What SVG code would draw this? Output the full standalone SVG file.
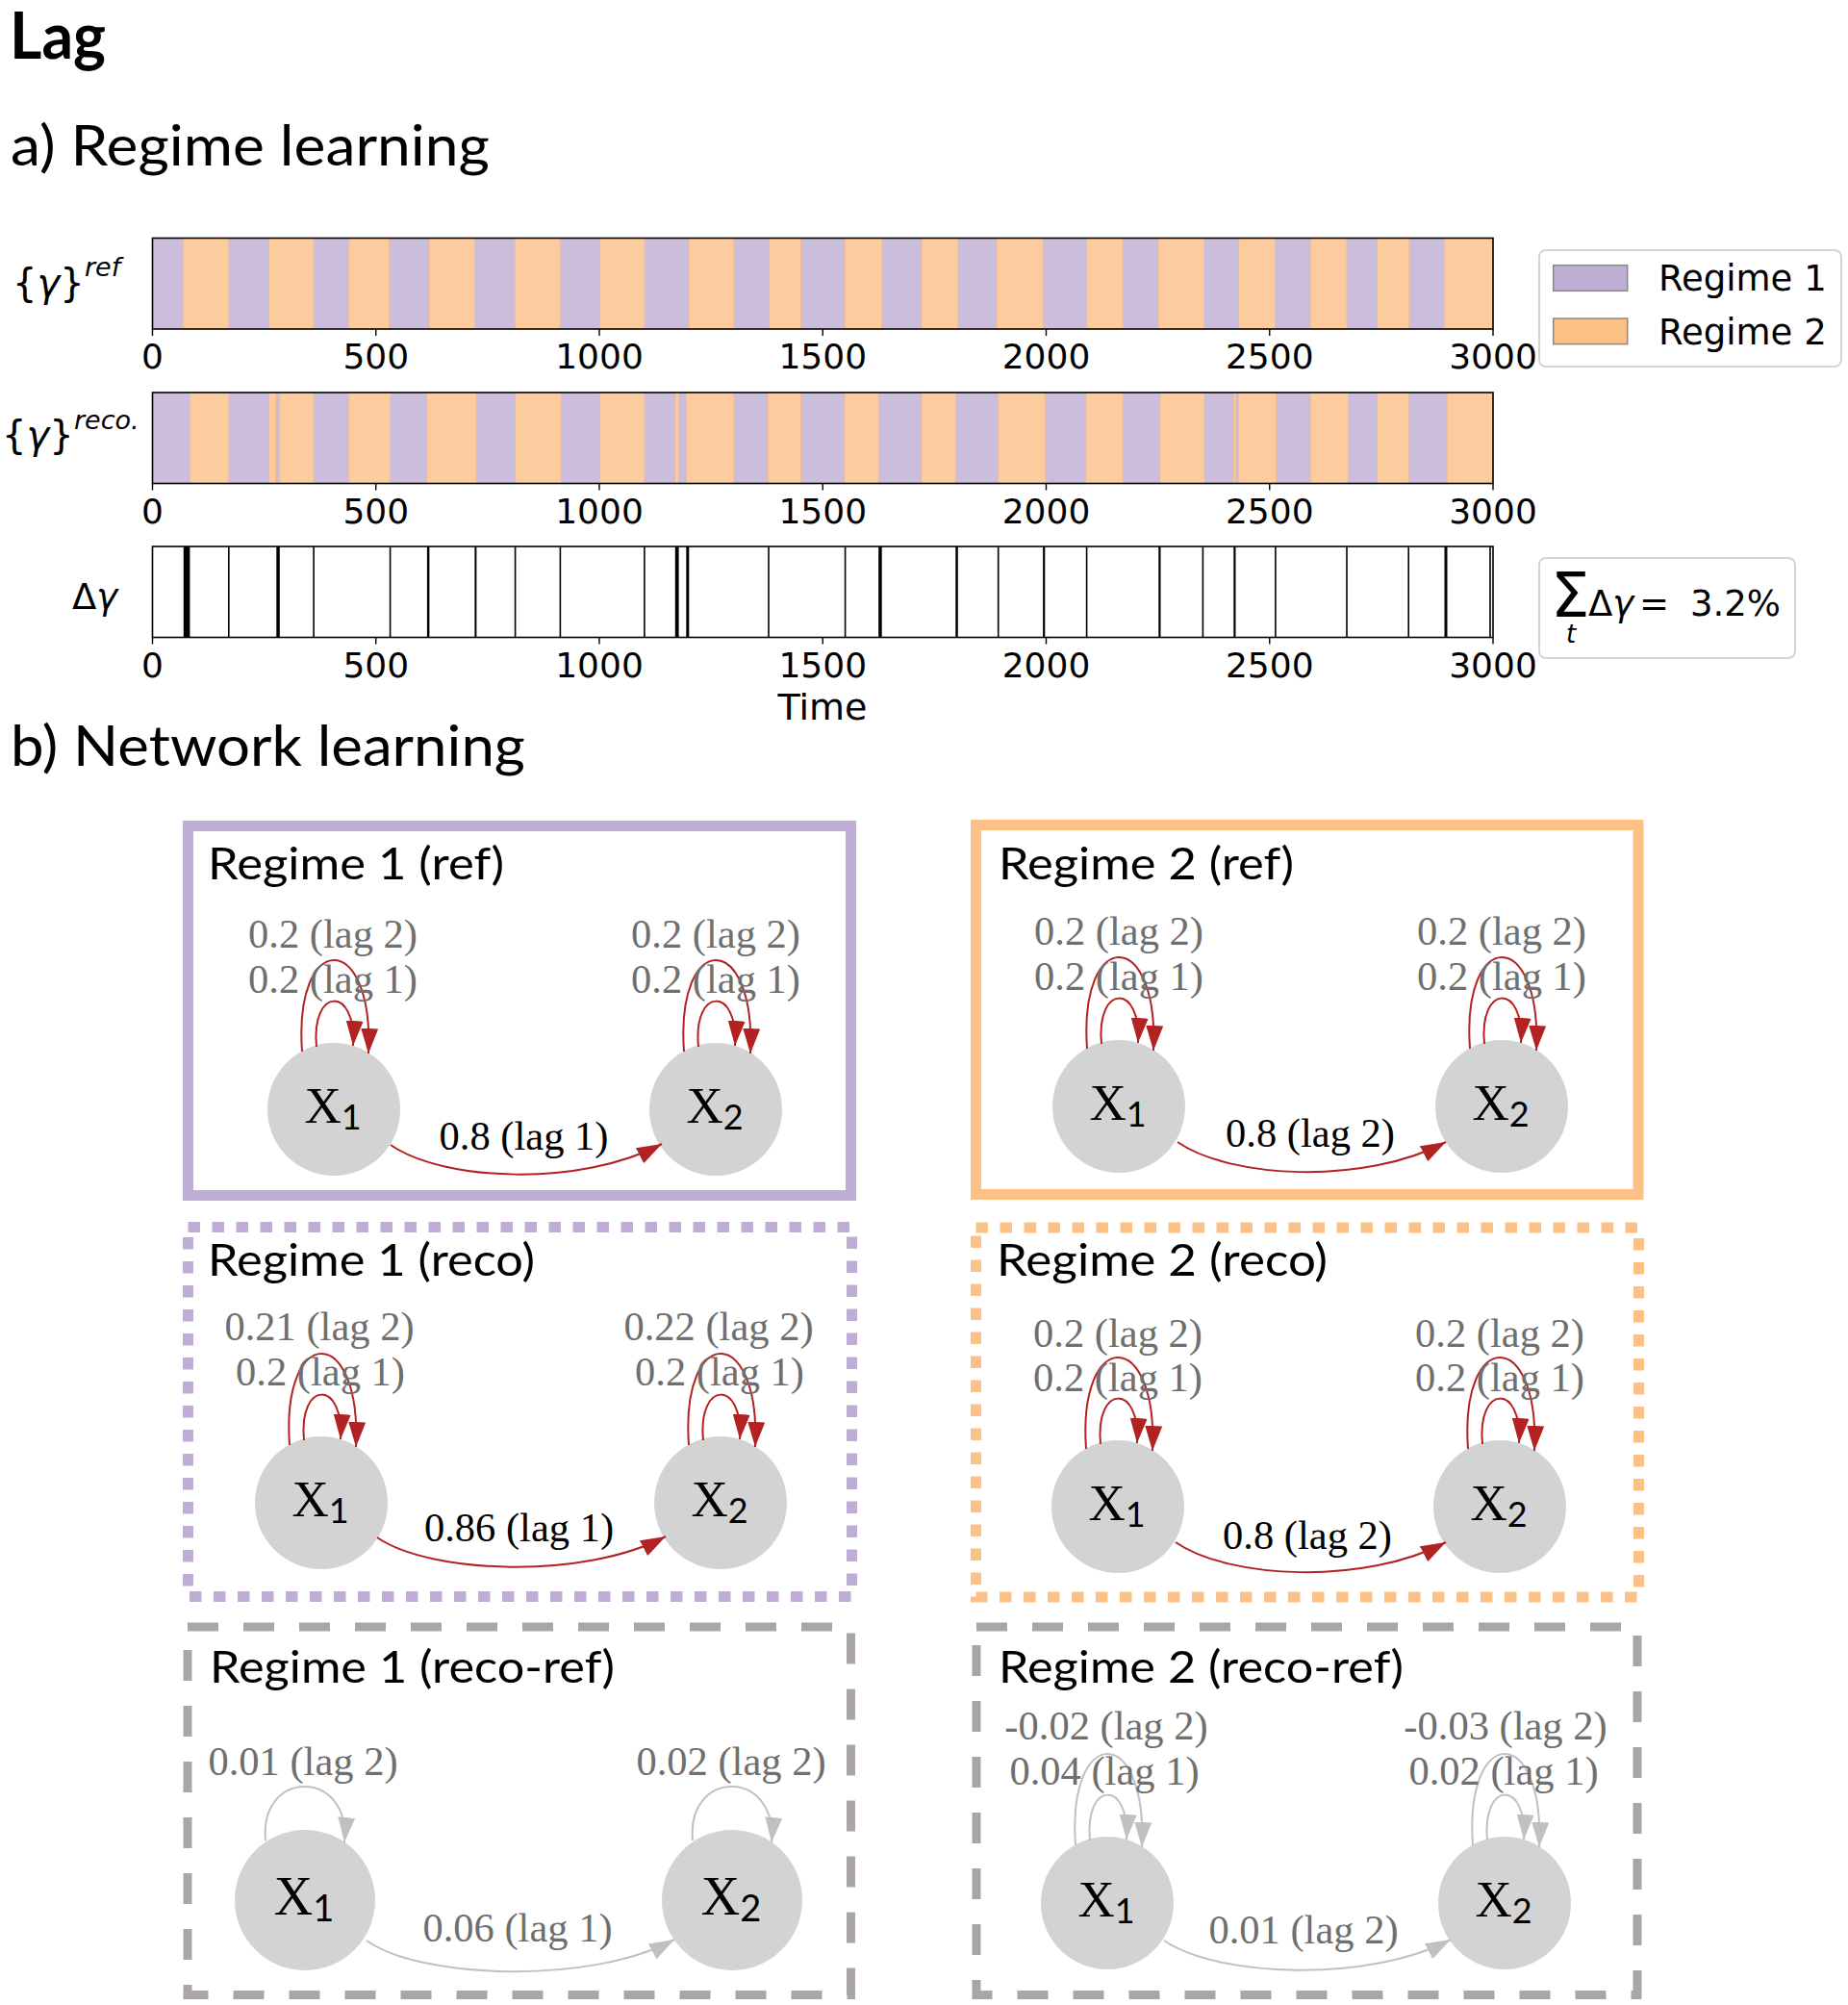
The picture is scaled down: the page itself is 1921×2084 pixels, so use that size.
<svg xmlns="http://www.w3.org/2000/svg" width="1921" height="2084" viewBox="0 0 1921 2084">
<style>
.hdr{font-family:Lato,"Open Sans","Liberation Sans",sans-serif;fill:#000}
.mpl{font-family:"DejaVu Sans",sans-serif;fill:#000}
.tick{font-family:"DejaVu Sans",sans-serif;font-size:36px;text-anchor:middle;fill:#000}
.p1{fill:#cbbedd}
.p2{fill:#fdcc9e;stroke:#f8bb88;stroke-width:0.8}
.axbox{fill:none;stroke:#000;stroke-width:1.6}
.tk{stroke:#000;stroke-width:1.4}
.dg{fill:#000}
.ttl{font-family:Lato,"Open Sans","Liberation Sans",sans-serif;font-size:47px;fill:#000}
.node{fill:#d3d3d3}
.nl{font-family:"Liberation Serif",serif;font-size:53px;text-anchor:middle;fill:#000}
.nl3{font-family:"Liberation Serif",serif;font-size:56px;text-anchor:middle;fill:#000}
.sub{font-family:Lato,"Liberation Sans",sans-serif}
.el{font-family:"Liberation Serif",serif;font-size:42.5px;text-anchor:middle}
.gl{fill:#6f6f6f}
.bl{fill:#000}
.red{fill:none;stroke:#b22222;stroke-width:2}
.gry{fill:none;stroke:#c0c0c0;stroke-width:2}
.b1{fill:none;stroke:#beaed4;stroke-width:11}
.b2{fill:none;stroke:#fdc086;stroke-width:11}
.dot{stroke-dasharray:12.5 12.5}
.dsh{fill:none;stroke:#aaa6a5;stroke-width:9;stroke-dasharray:32 26}
</style>
<defs>
<marker id="ar" viewBox="0 0 26 18" refX="26" refY="9" markerWidth="26" markerHeight="18" markerUnits="userSpaceOnUse" orient="auto"><path d="M0,0 L26,9 L0,18 z" fill="#b22222"/></marker>
<marker id="ag" viewBox="0 0 26 18" refX="26" refY="9" markerWidth="26" markerHeight="18" markerUnits="userSpaceOnUse" orient="auto"><path d="M0,0 L26,9 L0,18 z" fill="#c0c0c0"/></marker>
</defs>
<rect width="1921" height="2084" fill="#fff"/>

<!-- Headings -->
<text class="hdr" x="10" y="61" font-size="66" font-weight="bold" textLength="100" lengthAdjust="spacingAndGlyphs">Lag</text>
<text class="hdr" x="11" y="172" font-size="59" textLength="498" lengthAdjust="spacingAndGlyphs">a) Regime learning</text>
<text class="hdr" x="11" y="796" font-size="59" textLength="535" lengthAdjust="spacingAndGlyphs">b) Network learning</text>

<!-- Panel a: regime bars -->
<g id="bar-ref">
<rect class="p1" x="158.5" y="247.5" width="1393.5" height="94.5"/>
<rect class="p2" x="190.8" y="247.5" width="47" height="94.5"/>
<rect class="p2" x="279.6" y="247.5" width="46.4" height="94.5"/>
<rect class="p2" x="362.8" y="247.5" width="41.8" height="94.5"/>
<rect class="p2" x="446.4" y="247.5" width="47" height="94.5"/>
<rect class="p2" x="535.2" y="247.5" width="46.9" height="94.5"/>
<rect class="p2" x="623.5" y="247.5" width="46.4" height="94.5"/>
<rect class="p2" x="716.3" y="247.5" width="46.5" height="94.5"/>
<rect class="p2" x="799.4" y="247.5" width="33.2" height="94.5"/>
<rect class="p2" x="878.5" y="247.5" width="38.2" height="94.5"/>
<rect class="p2" x="958.1" y="247.5" width="37.7" height="94.5"/>
<rect class="p2" x="1036.6" y="247.5" width="47.5" height="94.5"/>
<rect class="p2" x="1129.5" y="247.5" width="37.7" height="94.5"/>
<rect class="p2" x="1204.5" y="247.5" width="46.9" height="94.5"/>
<rect class="p2" x="1287.7" y="247.5" width="37.7" height="94.5"/>
<rect class="p2" x="1362.7" y="247.5" width="37.2" height="94.5"/>
<rect class="p2" x="1431.5" y="247.5" width="33.2" height="94.5"/>
<rect class="p2" x="1501.4" y="247.5" width="50.6" height="94.5"/>
<rect class="axbox" x="158.5" y="247.5" width="1393.5" height="94.5"/>
<path class="tk" d="M158.5,342v7M390.75,342v7M623,342v7M855.25,342v7M1087.5,342v7M1319.75,342v7M1552,342v7"/>
<text class="tick" x="158.5" y="383">0</text><text class="tick" x="390.75" y="383">500</text><text class="tick" x="623" y="383">1000</text><text class="tick" x="855.25" y="383">1500</text><text class="tick" x="1087.5" y="383">2000</text><text class="tick" x="1319.75" y="383">2500</text><text class="tick" x="1552" y="383">3000</text>
<text class="mpl" x="13" y="308" font-size="40">{<tspan font-style="italic">γ</tspan>}</text>
<text class="mpl" x="88" y="287" font-size="27" font-style="italic">ref</text>
</g>

<g id="bar-reco">
<rect class="p1" x="158.5" y="408" width="1393.5" height="94.5"/>
<rect class="p2" x="197.4" y="408" width="40.4" height="94.5"/>
<rect class="p2" x="279.6" y="408" width="7.1" height="94.5"/>
<rect class="p2" x="290.8" y="408" width="35.2" height="94.5"/>
<rect class="p2" x="362.8" y="408" width="42.8" height="94.5"/>
<rect class="p2" x="443.9" y="408" width="51" height="94.5"/>
<rect class="p2" x="535.7" y="408" width="47.5" height="94.5"/>
<rect class="p2" x="623.5" y="408" width="46.4" height="94.5"/>
<rect class="p2" x="702" y="408" width="3.6" height="94.5"/>
<rect class="p2" x="713.3" y="408" width="49.5" height="94.5"/>
<rect class="p2" x="798.4" y="408" width="34.2" height="94.5"/>
<rect class="p2" x="878" y="408" width="35.2" height="94.5"/>
<rect class="p2" x="958.1" y="408" width="35.2" height="94.5"/>
<rect class="p2" x="1037.7" y="408" width="48.4" height="94.5"/>
<rect class="p2" x="1129" y="408" width="38.2" height="94.5"/>
<rect class="p2" x="1206" y="408" width="45.9" height="94.5"/>
<rect class="p2" x="1282.6" y="408" width="1.7" height="94.5"/>
<rect class="p2" x="1287.7" y="408" width="38.7" height="94.5"/>
<rect class="p2" x="1362.7" y="408" width="38.7" height="94.5"/>
<rect class="p2" x="1431.5" y="408" width="32.7" height="94.5"/>
<rect class="p2" x="1504.5" y="408" width="47.5" height="94.5"/>
<rect class="axbox" x="158.5" y="408" width="1393.5" height="94.5"/>
<path class="tk" d="M158.5,502.5v7M390.75,502.5v7M623,502.5v7M855.25,502.5v7M1087.5,502.5v7M1319.75,502.5v7M1552,502.5v7"/>
<text class="tick" x="158.5" y="543.5">0</text><text class="tick" x="390.75" y="543.5">500</text><text class="tick" x="623" y="543.5">1000</text><text class="tick" x="855.25" y="543.5">1500</text><text class="tick" x="1087.5" y="543.5">2000</text><text class="tick" x="1319.75" y="543.5">2500</text><text class="tick" x="1552" y="543.5">3000</text>
<text class="mpl" x="2" y="466" font-size="40">{<tspan font-style="italic">γ</tspan>}</text>
<text class="mpl" x="77" y="446" font-size="27" font-style="italic">reco.</text>
</g>

<g id="bar-delta">
<rect x="158.5" y="568" width="1393.5" height="94.5" fill="#fff"/>
<rect class="dg" x="190.8" y="568" width="6.6" height="94.5"/>
<rect class="dg" x="237.0" y="568" width="1.6" height="94.5"/>
<rect class="dg" x="287.3" y="568" width="3.5" height="94.5"/>
<rect class="dg" x="325.3" y="568" width="1.6" height="94.5"/>
<rect class="dg" x="404.8" y="568" width="1.6" height="94.5"/>
<rect class="dg" x="443.9" y="568" width="2.5" height="94.5"/>
<rect class="dg" x="493.4" y="568" width="2.0" height="94.5"/>
<rect class="dg" x="534.8" y="568" width="1.6" height="94.5"/>
<rect class="dg" x="581.6" y="568" width="1.6" height="94.5"/>
<rect class="dg" x="669.1" y="568" width="1.6" height="94.5"/>
<rect class="dg" x="701.8" y="568" width="3.8" height="94.5"/>
<rect class="dg" x="713.3" y="568" width="3.0" height="94.5"/>
<rect class="dg" x="798.2" y="568" width="1.6" height="94.5"/>
<rect class="dg" x="877.8" y="568" width="1.6" height="94.5"/>
<rect class="dg" x="913.2" y="568" width="3.5" height="94.5"/>
<rect class="dg" x="993.3" y="568" width="2.5" height="94.5"/>
<rect class="dg" x="1036.9" y="568" width="1.6" height="94.5"/>
<rect class="dg" x="1084.1" y="568" width="2.2" height="94.5"/>
<rect class="dg" x="1128.8" y="568" width="1.6" height="94.5"/>
<rect class="dg" x="1204.3" y="568" width="2.2" height="94.5"/>
<rect class="dg" x="1249.6" y="568" width="1.6" height="94.5"/>
<rect class="dg" x="1282.3" y="568" width="2.2" height="94.5"/>
<rect class="dg" x="1325.1" y="568" width="1.6" height="94.5"/>
<rect class="dg" x="1399.2" y="568" width="1.6" height="94.5"/>
<rect class="dg" x="1463.4" y="568" width="1.6" height="94.5"/>
<rect class="dg" x="1501.5" y="568" width="3.0" height="94.5"/>
<rect class="dg" x="1548.2" y="568" width="1.6" height="94.5"/>
<rect class="axbox" x="158.5" y="568" width="1393.5" height="94.5"/>
<path class="tk" d="M158.5,662.5v7M390.75,662.5v7M623,662.5v7M855.25,662.5v7M1087.5,662.5v7M1319.75,662.5v7M1552,662.5v7"/>
<text class="tick" x="158.5" y="703.5">0</text><text class="tick" x="390.75" y="703.5">500</text><text class="tick" x="623" y="703.5">1000</text><text class="tick" x="855.25" y="703.5">1500</text><text class="tick" x="1087.5" y="703.5">2000</text><text class="tick" x="1319.75" y="703.5">2500</text><text class="tick" x="1552" y="703.5">3000</text>
<text class="mpl" x="855" y="748" font-size="38" text-anchor="middle">Time</text>
<text class="mpl" x="75" y="633" font-size="37">Δ<tspan font-style="italic">γ</tspan></text>
</g>

<g id="legend">
<rect x="1600" y="260" width="314" height="121" rx="7" fill="#fff" stroke="#d4d4d4" stroke-width="2"/>
<rect x="1614.7" y="275.7" width="77" height="26.6" fill="#beaed4" stroke="#888" stroke-width="1.5"/>
<rect x="1614.7" y="331" width="77" height="26.6" fill="#fdc086" stroke="#888" stroke-width="1.5"/>
<text class="mpl" x="1724" y="302.3" font-size="37">Regime 1</text>
<text class="mpl" x="1724" y="357.7" font-size="37">Regime 2</text>
</g>

<g id="sum-box">
<rect x="1600" y="580" width="266" height="104" rx="7" fill="#fff" stroke="#d4d4d4" stroke-width="2"/>
<text class="mpl" x="1612" y="641" font-size="64">Σ</text>
<text class="mpl" x="1628" y="668" font-size="26" font-style="italic">t</text>
<text class="mpl" x="1651" y="640" font-size="37">Δ<tspan font-style="italic">γ</tspan></text>
<text class="mpl" x="1704" y="640" font-size="37">=</text>
<text class="mpl" x="1757" y="640" font-size="37">3.2%</text>
</g>

<!-- Panel b: network learning -->
<g id="panel-r1-ref">
<rect class="b1" x="195.5" y="858.5" width="689" height="384"/>
<text class="ttl" x="216" y="914" textLength="308" lengthAdjust="spacingAndGlyphs">Regime 1 (ref)</text>
</g>
<g id="panel-r2-ref">
<rect class="b2" x="1014.5" y="857.5" width="688.5" height="384"/>
<text class="ttl" x="1038" y="914" textLength="307" lengthAdjust="spacingAndGlyphs">Regime 2 (ref)</text>
</g>
<g id="panel-r1-reco">
<rect class="b1 dot" x="195.5" y="1275.5" width="690" height="384"/>
<text class="ttl" x="216" y="1326" textLength="340" lengthAdjust="spacingAndGlyphs">Regime 1 (reco)</text>
</g>
<g id="panel-r2-reco">
<rect class="b2 dot" x="1014.5" y="1276" width="689" height="384"/>
<text class="ttl" x="1036" y="1326" textLength="344" lengthAdjust="spacingAndGlyphs">Regime 2 (reco)</text>
</g>
<g id="panel-r1-recoref">
<rect class="dsh" x="195" y="1691" width="689.5" height="382.5"/>
<text class="ttl" x="218" y="1749" textLength="421" lengthAdjust="spacingAndGlyphs">Regime 1 (reco-ref)</text>
</g>
<g id="panel-r2-recoref">
<rect class="dsh" x="1015" y="1691" width="687" height="382.5"/>
<text class="ttl" x="1038" y="1749" textLength="421" lengthAdjust="spacingAndGlyphs">Regime 2 (reco-ref)</text>
</g>

<!-- Nodes -->
<g id="r1ref-x1"><circle class="node" cx="347" cy="1153" r="69"/><text class="nl" x="346" y="1167">X<tspan class="sub" font-size="36" dy="7">1</tspan></text></g>
<g id="r1ref-x2"><circle class="node" cx="744" cy="1153" r="69"/><text class="nl" x="743" y="1167">X<tspan class="sub" font-size="36" dy="7">2</tspan></text></g>
<g id="r2ref-x1"><circle class="node" cx="1163" cy="1150" r="69"/><text class="nl" x="1162" y="1164">X<tspan class="sub" font-size="36" dy="7">1</tspan></text></g>
<g id="r2ref-x2"><circle class="node" cx="1561" cy="1150" r="69"/><text class="nl" x="1560" y="1164">X<tspan class="sub" font-size="36" dy="7">2</tspan></text></g>
<g id="r1reco-x1"><circle class="node" cx="334" cy="1562" r="69"/><text class="nl" x="333" y="1576">X<tspan class="sub" font-size="36" dy="7">1</tspan></text></g>
<g id="r1reco-x2"><circle class="node" cx="749" cy="1562" r="69"/><text class="nl" x="748" y="1576">X<tspan class="sub" font-size="36" dy="7">2</tspan></text></g>
<g id="r2reco-x1"><circle class="node" cx="1162" cy="1566" r="69"/><text class="nl" x="1161" y="1580">X<tspan class="sub" font-size="36" dy="7">1</tspan></text></g>
<g id="r2reco-x2"><circle class="node" cx="1559" cy="1566" r="69"/><text class="nl" x="1558" y="1580">X<tspan class="sub" font-size="36" dy="7">2</tspan></text></g>
<g id="r1rr-x1"><circle class="node" cx="317" cy="1975" r="73"/><text class="nl3" x="316" y="1990">X<tspan class="sub" font-size="38" dy="7">1</tspan></text></g>
<g id="r1rr-x2"><circle class="node" cx="761" cy="1975" r="73"/><text class="nl3" x="760" y="1990">X<tspan class="sub" font-size="38" dy="7">2</tspan></text></g>
<g id="r2rr-x1"><circle class="node" cx="1151" cy="1978" r="69"/><text class="nl" x="1150" y="1992">X<tspan class="sub" font-size="36" dy="7">1</tspan></text></g>
<g id="r2rr-x2"><circle class="node" cx="1564" cy="1978" r="69"/><text class="nl" x="1563" y="1992">X<tspan class="sub" font-size="36" dy="7">2</tspan></text></g>

<!-- Connectors -->
<g id="connectors">
<!-- Regime 1 ref -->
<path class="red" marker-end="url(#ar)" d="M314,1093 C305,966 389,966 383,1095"/>
<path class="red" marker-end="url(#ar)" d="M329,1088 C323,1025 371,1025 367,1087"/>
<path class="red" marker-end="url(#ar)" d="M711,1093 C702,966 786,966 780,1095"/>
<path class="red" marker-end="url(#ar)" d="M726,1088 C720,1025 768,1025 764,1087"/>
<path class="red" marker-end="url(#ar)" d="M406,1190 C461,1228 603,1234 688,1189"/>
<text class="el gl" x="346" y="985">0.2 (lag 2)</text><text class="el gl" x="346" y="1032">0.2 (lag 1)</text>
<text class="el gl" x="744" y="985">0.2 (lag 2)</text><text class="el gl" x="744" y="1032">0.2 (lag 1)</text>
<text class="el bl" x="544.5" y="1195">0.8 (lag 1)</text>
<!-- Regime 2 ref -->
<path class="red" marker-end="url(#ar)" d="M1130,1090 C1121,963 1205,963 1199,1092"/>
<path class="red" marker-end="url(#ar)" d="M1145,1085 C1139,1022 1187,1022 1183,1084"/>
<path class="red" marker-end="url(#ar)" d="M1528,1090 C1519,963 1603,963 1597,1092"/>
<path class="red" marker-end="url(#ar)" d="M1543,1085 C1537,1022 1585,1022 1581,1084"/>
<path class="red" marker-end="url(#ar)" d="M1224,1187 C1279,1225 1418,1232 1503,1187"/>
<text class="el gl" x="1163" y="982">0.2 (lag 2)</text><text class="el gl" x="1163" y="1029">0.2 (lag 1)</text>
<text class="el gl" x="1561" y="982">0.2 (lag 2)</text><text class="el gl" x="1561" y="1029">0.2 (lag 1)</text>
<text class="el bl" x="1362" y="1192">0.8 (lag 2)</text>
<!-- Regime 1 reco -->
<path class="red" marker-end="url(#ar)" d="M301,1502 C292,1375 376,1375 370,1504"/>
<path class="red" marker-end="url(#ar)" d="M316,1497 C310,1434 358,1434 354,1496"/>
<path class="red" marker-end="url(#ar)" d="M716,1502 C707,1375 791,1375 785,1504"/>
<path class="red" marker-end="url(#ar)" d="M731,1497 C725,1434 773,1434 769,1496"/>
<path class="red" marker-end="url(#ar)" d="M392,1598 C447,1636 607,1642 692,1597"/>
<text class="el gl" x="332" y="1393">0.21 (lag 2)</text><text class="el gl" x="333" y="1440">0.2 (lag 1)</text>
<text class="el gl" x="747" y="1393">0.22 (lag 2)</text><text class="el gl" x="748" y="1440">0.2 (lag 1)</text>
<text class="el bl" x="539.5" y="1602">0.86 (lag 1)</text>
<!-- Regime 2 reco -->
<path class="red" marker-end="url(#ar)" d="M1129,1506 C1120,1379 1204,1379 1198,1508"/>
<path class="red" marker-end="url(#ar)" d="M1144,1501 C1138,1438 1186,1438 1182,1500"/>
<path class="red" marker-end="url(#ar)" d="M1526,1506 C1517,1379 1601,1379 1595,1508"/>
<path class="red" marker-end="url(#ar)" d="M1541,1501 C1535,1438 1583,1438 1579,1500"/>
<path class="red" marker-end="url(#ar)" d="M1222,1603 C1277,1641 1418,1648 1503,1603"/>
<text class="el gl" x="1162" y="1400">0.2 (lag 2)</text><text class="el gl" x="1162" y="1446">0.2 (lag 1)</text>
<text class="el gl" x="1559" y="1400">0.2 (lag 2)</text><text class="el gl" x="1559" y="1446">0.2 (lag 1)</text>
<text class="el bl" x="1359" y="1610">0.8 (lag 2)</text>
<!-- Regime 1 reco-ref -->
<path class="gry" marker-end="url(#ag)" d="M276,1913 C269,1838 365,1838 358,1915"/>
<path class="gry" marker-end="url(#ag)" d="M720,1913 C713,1838 809,1838 802,1915"/>
<path class="gry" marker-end="url(#ag)" d="M381,2017 C436,2057 615,2063 701,2016"/>
<text class="el gl" x="315" y="1845">0.01 (lag 2)</text>
<text class="el gl" x="760" y="1845">0.02 (lag 2)</text>
<text class="el gl" x="538" y="2018">0.06 (lag 1)</text>
<!-- Regime 2 reco-ref -->
<path class="gry" marker-end="url(#ag)" d="M1118,1918 C1109,1791 1193,1791 1187,1920"/>
<path class="gry" marker-end="url(#ag)" d="M1133,1913 C1127,1850 1175,1850 1171,1912"/>
<path class="gry" marker-end="url(#ag)" d="M1531,1918 C1522,1791 1606,1791 1600,1920"/>
<path class="gry" marker-end="url(#ag)" d="M1546,1913 C1540,1850 1588,1850 1584,1912"/>
<path class="gry" marker-end="url(#ag)" d="M1210,2017 C1265,2055 1423,2061 1508,2016"/>
<text class="el gl" x="1150" y="1808">-0.02 (lag 2)</text><text class="el gl" x="1148" y="1855">0.04 (lag 1)</text>
<text class="el gl" x="1565" y="1808">-0.03 (lag 2)</text><text class="el gl" x="1563" y="1855">0.02 (lag 1)</text>
<text class="el gl" x="1355" y="2020">0.01 (lag 2)</text>
</g>
</svg>
